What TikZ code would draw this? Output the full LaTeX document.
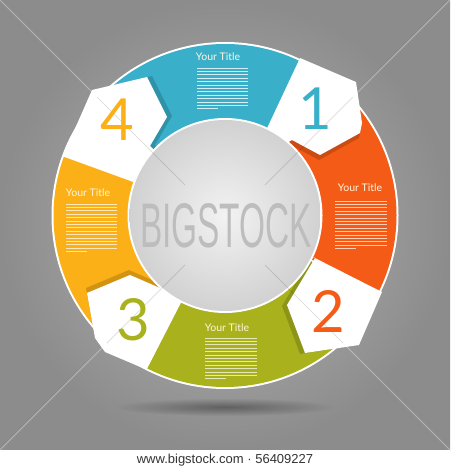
\documentclass[tikz,border=0pt]{standalone}
\usepackage{fontspec}
\setmainfont{Lato}
\newfontfamily\markfont{Liberation Sans}
\usetikzlibrary{calc,fadings}

\definecolor{segblue}{HTML}{3AAFC9}
\definecolor{segorange}{HTML}{F35B17}
\definecolor{seggreen}{HTML}{A9B21D}
\definecolor{segyellow}{HTML}{FBB017}
\definecolor{bgcenter}{HTML}{B6B6B6}
\definecolor{bgedge}{HTML}{8C8C8C}
\definecolor{titlecream}{HTML}{FFF6DC}

\tikzfading[name=softspot,inner color=transparent!0,outer color=transparent!100]

% ring sector from the centre (o), three angles on a far circle
\newcommand\sectorpath[3]{(o) -- ($(o)+(#1:260)$) -- ($(o)+(#2:260)$) -- ($(o)+(#3:260)$) -- cycle}
% white step tabs
\newcommand\tabone{(300,58) -- (356,82) -- (362,123) -- (360,133) -- (320,155) -- (292,140) -- (275,150) -- (262,139) -- cycle}
\newcommand\tabtwo{(305,253) -- (382,292) -- (359,345) -- (305,353) -- (287,305) -- (315,258) -- cycle}
\newcommand\tabthree{(87,293) -- (130,275) -- (160,288) -- (170,285) -- (188,289) -- (146.5,369.6) -- (105,352) -- (95,338) -- cycle}
\newcommand\tabfour{(92,90) -- (147,77) -- (167,117) -- (150,146) -- (165,160) -- (155,174) -- (70,140) -- cycle}
% block of text lines: x1, x2, y0, count, colour
\newcommand\bodylines[5]{%
  \foreach \k in {0,...,#4} \draw[bodyline,draw=#5] (#1,#3+\k*3.4) -- (#2,#3+\k*3.4);
  \draw[bodyline,draw=#5] (#1,{#3+(#4+1)*3.4}) -- ({#1+21},{#3+(#4+1)*3.4});}

\begin{document}
\begin{tikzpicture}[x=1pt,y=-1pt,
  tabpiece/.style={fill=white},
  tabshadow/.style={fill=black,opacity=0.16},
  ringtitle/.style={text=titlecream,font=\fontsize{10.5}{12}\selectfont,inner sep=0pt},
  bodyline/.style={line width=0.8pt},
  stepnum/.style={font=\fontsize{58}{58}\selectfont,inner sep=0pt},
  crossline/.style={line width=0.9pt}]

\useasboundingbox (0,0) rectangle (450,470);
\coordinate (o) at (225,215.5);
%
\shade[inner color=bgcenter,outer color=bgedge] (0,0) rectangle (450,450);
\fill[white] (0,450) rectangle (450,470);
\node[font=\markfont\fontsize{13}{13}\selectfont,text=black!80] (site) at (225,460) {www.bigstock.com · 56409227};
\draw[crossline,white,opacity=0.35] (0,0) -- (185,185) (265,265) -- (450,450)
  (450,0) -- (265,185) (185,265) -- (0,450);
\fill[black,opacity=0.35,path fading=softspot] (225,407) ellipse [x radius=110pt,y radius=9pt];
%
\fill[white] (o) circle[radius=173.5pt];
\begin{scope}
  \clip (o) circle[radius=171.5pt];
  \fill[segblue] \sectorpath{-63}{-104}{-145};
  \fill[segorange] \sectorpath{27}{-11.5}{-50};
  \fill[seggreen] \sectorpath{117}{72.5}{28};
  \fill[segyellow] \sectorpath{-160}{-197.5}{-235};
  \begin{scope}\clip \sectorpath{27}{-11.5}{-50};
    \fill[tabshadow,shift={(-1,5)}] \tabone; \end{scope}
  \begin{scope}\clip \sectorpath{117}{72.5}{28};
    \fill[tabshadow,shift={(-5,1)}] \tabtwo; \end{scope}
  \begin{scope}\clip \sectorpath{-160}{-197.5}{-235};
    \fill[tabshadow,shift={(-1,-5)}] \tabthree; \end{scope}
  \begin{scope}\clip \sectorpath{-63}{-104}{-145};
    \fill[tabshadow,shift={(5,-1)}] \tabfour; \end{scope}
\end{scope}
\fill[tabpiece] \tabone;
\fill[tabpiece] \tabtwo;
\fill[tabpiece] \tabthree;
\fill[tabpiece] \tabfour;
%
\fill[white] (o) circle[radius=97.5pt];
\shade[inner color=black!5,outer color=black!18] (o) circle[radius=95.5pt];
\begin{scope}
  \clip (o) circle[radius=174pt];
  \draw[crossline,black,opacity=0.12] (0,0) -- (185,185) (265,265) -- (450,450)
    (450,0) -- (265,185) (185,265) -- (0,450);
\end{scope}
\node[font=\markfont\fontsize{63}{63}\selectfont,text=black!26,xscale=0.53] (stamp) at (226,226) {BIGSTOCK};
%
\node[stepnum,text=segblue] (one) at (315,109) {1};
\node[stepnum,text=segorange] (two) at (328,311) {2};
\node[stepnum,text=seggreen] (three) at (133,320) {3};
\node[stepnum,text=segyellow] (four) at (117,120) {4};
%
\node[ringtitle] (titleblue) at (218,57) {Your Title};
\node[ringtitle] (titleorange) at (360,188) {Your Title};
\node[ringtitle] (titleyellow) at (88,193) {Your Title};
\node[ringtitle] (titlegreen) at (227,328) {Your Title};
\bodylines{197}{248}{68}{11}{white!78!segblue}
\bodylines{335}{387}{201}{13}{white!70!segorange}
\bodylines{66}{117}{204}{13}{white!70!segyellow}
\bodylines{205}{257}{338}{11}{white!70!seggreen}

\end{tikzpicture}
\end{document}
